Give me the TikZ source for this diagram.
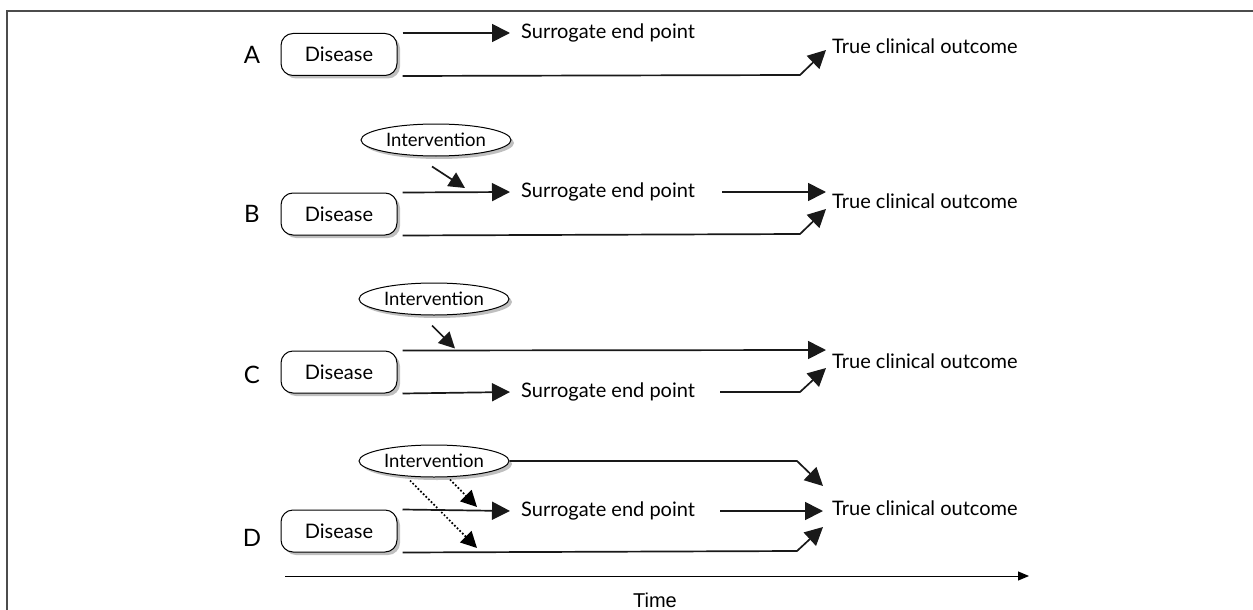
\documentclass[tikz,border=0pt]{standalone}
\usepackage{fontspec}
\setmainfont{Lato}
\newfontfamily\timefont{Liberation Sans}
\usetikzlibrary{arrows.meta,shapes.geometric,shadows}
\tikzset{
  base/.style={line width=1.7pt, draw=black!90},
  arr/.style={base, -{Triangle[length=18pt,width=18pt]}},
  sarr/.style={base, -{Triangle[length=16pt,width=16pt]}},
  darr/.style={line width=1.7pt, dotted, -{Triangle[length=16pt,width=16pt]}},
  disbox/.style={draw, line width=1pt, rounded corners=12pt, minimum width=116pt, minimum height=42pt, fill=white,
     drop shadow={shadow xshift=3pt, shadow yshift=-3pt, fill=black!25, opacity=1}, font=\fontsize{20}{22}\selectfont},
  intell/.style={ellipse, draw, line width=1pt, minimum width=150pt, minimum height=32pt, inner sep=0pt, fill=white,
     drop shadow={shadow xshift=3pt, shadow yshift=-3pt, fill=black!25, opacity=1}, font=\fontsize{18.5}{21}\selectfont},
  lbl/.style={anchor=west, inner sep=0pt, font=\fontsize{20}{22}\selectfont},
  letter/.style={inner sep=0pt, font=\fontsize{24}{26}\selectfont},
}
\begin{document}
\begin{tikzpicture}[x=1pt,y=-1pt]
\useasboundingbox (0,0) rectangle (1253,610);
\draw[line width=1.5pt, black!70] (7,610) -- (7,11) -- (1253,11);

% Row A
\node[letter] (lA) at (252,55) {A};
\node[disbox] (disA) at (339,54.5) {Disease};
\node[lbl] (surA) at (521,33) {Surrogate end point};
\node[lbl] (trueA) at (832,46) {True clinical outcome};
\draw[arr] ([xshift=5pt]disA.north east) -- ([xshift=-11pt]surA.west);
\draw[arr] ([xshift=5pt]disA.south east) -- ([shift={(-32,29)}]trueA.west) -- ([shift={(-6,4)}]trueA.west);

% Row B
\node[letter] (lB) at (252,214) {B};
\node[intell] (intB) at (436,140) {Intervention};
\node[disbox] (disB) at (339,214) {Disease};
\node[lbl] (surB) at (521,192) {Surrogate end point};
\node[lbl] (trueB) at (832,201) {True clinical outcome};
\draw[sarr] ([shift={(-4,10)}]intB.south) -- ([shift={(-56,-4)}]surB.west);
\draw[arr] ([xshift=5pt]disB.north east) -- ([xshift=-11pt]surB.west);
\draw[arr] ([shift={(-110,-9)}]trueB.west) -- ([shift={(-6,-9)}]trueB.west);
\draw[arr] ([xshift=5pt]disB.south east) -- ([shift={(-32,33)}]trueB.west) -- ([shift={(-6,8)}]trueB.west);

% Row C
\node[letter] (lC) at (252,375) {C};
\node[intell] (intC) at (434,299) {Intervention};
\node[disbox] (disC) at (339,372) {Disease};
\node[lbl] (surC) at (521,392) {Surrogate end point};
\node[lbl] (trueC) at (832,361) {True clinical outcome};
\draw[sarr] ([shift={(-2,10)}]intC.south) -- ([shift={(21,-2)}]intC.south |- disC.north);
\draw[arr] ([xshift=5pt]disC.north east) -- ([shift={(-6,-11)}]trueC.west);
\draw[arr] ([xshift=5pt]disC.south east) -- ([xshift=-11pt]surC.west);
\draw[arr] ([shift={(-112,31)}]trueC.west) -- ([shift={(-32,31)}]trueC.west) -- ([shift={(-6,7)}]trueC.west);

% Row D
\node[letter] (lD) at (252,538) {D};
\node[intell] (intD) at (434,461) {Intervention};
\node[disbox] (disD) at (339,531) {Disease};
\node[lbl] (surD) at (521,511) {Surrogate end point};
\node[lbl] (trueD) at (832,508) {True clinical outcome};
\draw[arr] (intD.east) -- ([shift={(-35,-47)}]trueD.west) -- ([shift={(-9,-22)}]trueD.west);
\draw[darr] ([shift={(16,2)}]intD.south) -- ([shift={(-44,-4)}]surD.west);
\draw[darr] ([shift={(-24,3)}]intD.south) -- ([shift={(-44,37)}]surD.west);
\draw[arr] ([xshift=5pt]disD.north east) -- ([xshift=-11pt]surD.west);
\draw[arr] ([shift={(-112,3)}]trueD.west) -- ([shift={(-9,3)}]trueD.west);
\draw[arr] ([xshift=5pt]disD.south east) -- ([shift={(-35,43)}]trueD.west) -- ([shift={(-9,19)}]trueD.west);

% Time axis
\node[inner sep=0pt, font=\timefont\fontsize{20}{22}\selectfont] (time) at (655,600) {Time};
\coordinate (t0) at (285,576);
\coordinate (t1) at (1029,576);
\draw[line width=1pt, -{Triangle[length=11pt,width=9pt]}] (t0) -- (t1);
\end{tikzpicture}
\end{document}
